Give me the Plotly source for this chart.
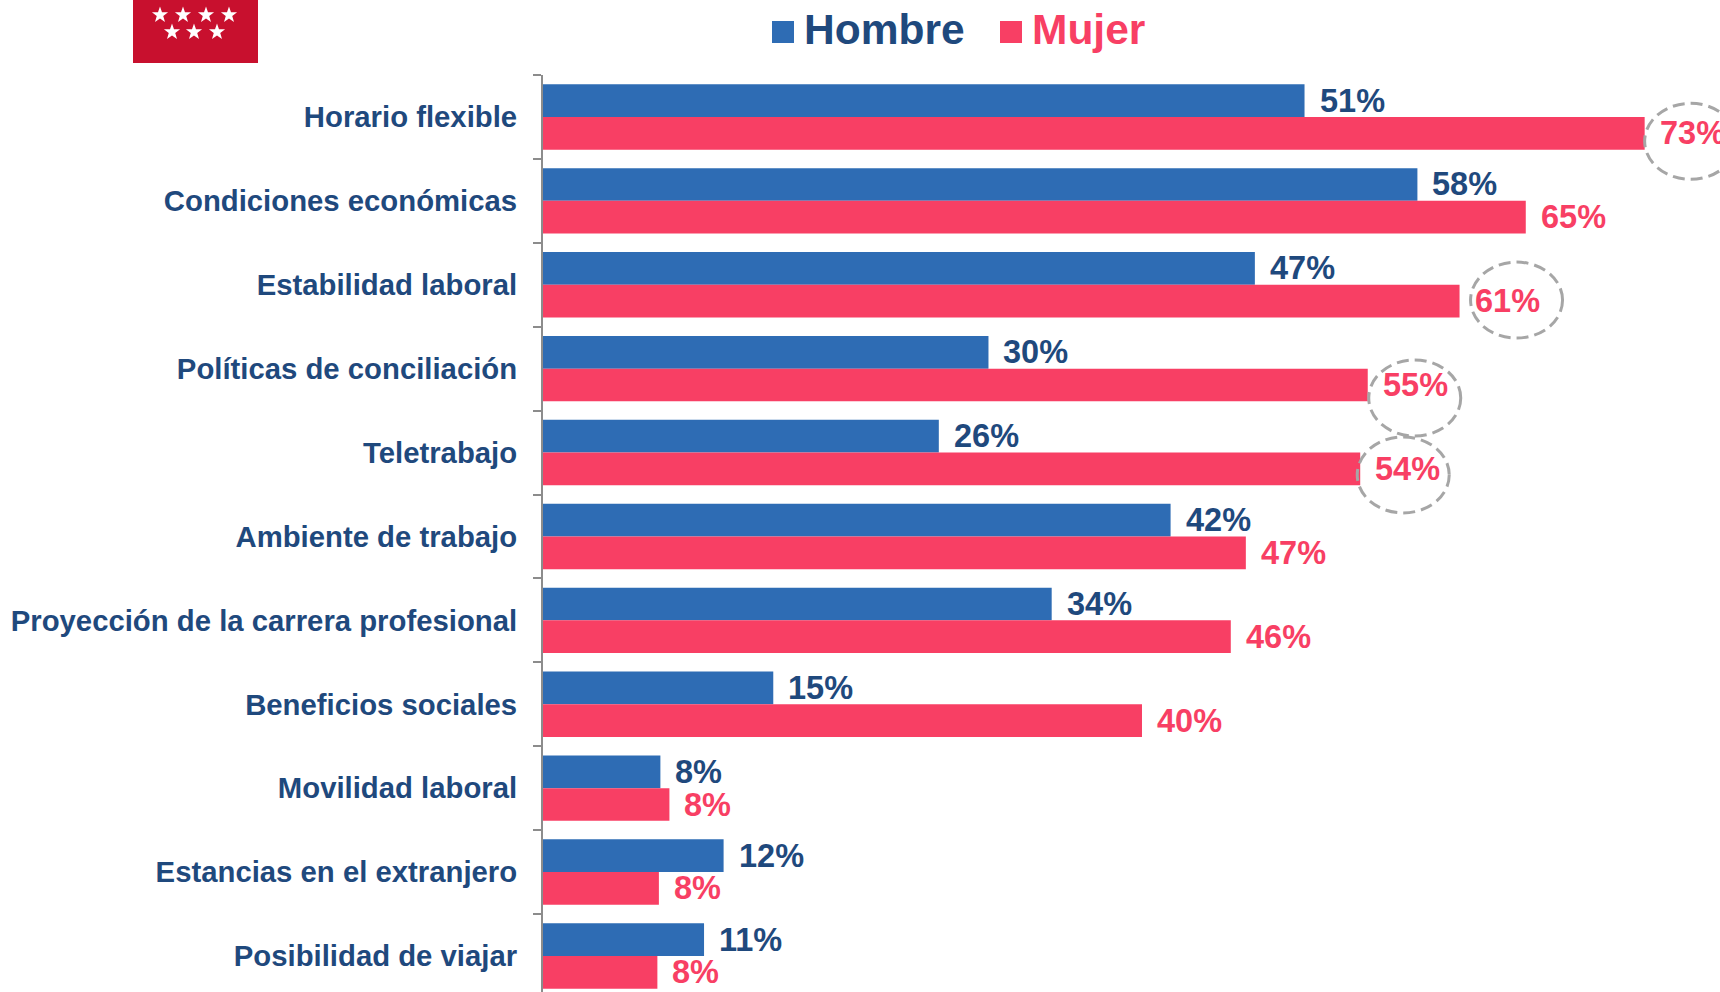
import math
import plotly.graph_objects as go

# ---------------- data ----------------
categorias = [
    "Horario flexible",
    "Condiciones económicas",
    "Estabilidad laboral",
    "Políticas de conciliación",
    "Teletrabajo",
    "Ambiente de trabajo",
    "Proyección de la carrera profesional",
    "Beneficios sociales",
    "Movilidad laboral",
    "Estancias en el extranjero",
    "Posibilidad de viajar",
]
hombre = [50.6, 58.1, 47.3, 29.6, 26.3, 41.7, 33.8, 15.3, 7.8, 12.0, 10.7]
mujer = [73.2, 65.3, 60.9, 54.8, 54.3, 46.7, 45.7, 39.8, 8.4, 7.7, 7.6]
series = ["Hombre", "Mujer"]
destacados = ["Horario flexible", "Estabilidad laboral",
              "Políticas de conciliación", "Teletrabajo"]

# ---------------- style ----------------
W, H = 1720, 992
L, R, T, B = 543, 0, 75, 0
PW, PH = W - L - R, H - T - B
AZUL = "#2E6CB4"
ROJO = "#F83F64"
TXT = "#1F497D"
GRIS = "#8C8C8C"
FONT = "Liberation Sans, Arial, sans-serif"
XMAX = PW / 15.05
YR = [-0.5 + PH / 83.9, -0.5]
BAND = PH / (YR[0] - YR[1])
BARGAP = 0.22
OFF = BAND * (1 - BARGAP) / 4  # half of a single bar height, px
# per-ellipse pixel nudges (dx of left edge, dy of centre; + = down)
ELIPSE_AJUSTE = {"Horario flexible": (0, 8), "Estabilidad laboral": (11, -1),
                 "Políticas de conciliación": (1, 13), "Teletrabajo": (-3, 6)}


def px(xp):
    return (xp - L) / PW


def py(yp):
    return (H - B - yp) / PH


def star_path(cx, cy, ro=8.5, ri=3.4):
    pts = []
    for k in range(10):
        r = ro if k % 2 == 0 else ri
        a = -math.pi / 2 + k * math.pi / 5
        pts.append((px(cx + r * math.cos(a)), py(cy + r * math.sin(a))))
    return "M" + "L".join(f"{x:.6f},{y:.6f}" for x, y in pts) + "Z"


fig = go.Figure()
for nombre, vals, col in [(series[0], hombre, AZUL), (series[1], mujer, ROJO)]:
    fig.add_trace(go.Bar(
        name=nombre, y=categorias, x=vals, orientation="h",
        marker=dict(color=col, line=dict(width=0)),
        showlegend=False, hoverinfo="x+y",
    ))

annotations = []
shapes = []
# value labels
for vals, col, ys in [(hombre, TXT, OFF), (mujer, ROJO, -OFF)]:
    for c, v in zip(categorias, vals):
        annotations.append(dict(
            x=v, y=c, xref="x", yref="y", text=f"{v:.0f}%", showarrow=False,
            xanchor="left", yanchor="middle", xshift=13, yshift=ys,
            font=dict(family=FONT, size=32.5, color=col, weight="bold"),
        ))

# dashed ellipses around highlighted Mujer values
for c in destacados:
    i = categorias.index(c)
    v = mujer[i]
    dx, dy = ELIPSE_AJUSTE[c]
    shapes.append(dict(
        type="circle", xref="x", yref="y", xsizemode="pixel", ysizemode="pixel",
        xanchor=v, yanchor=i + 0.195, x0=dx, x1=dx + 92, y0=-dy - 38, y1=-dy + 38,
        line=dict(color="#A6A6A6", width=3, dash="12px,6px"),
        fillcolor="rgba(0,0,0,0)", layer="above",
    ))

# custom legend
for nombre, col, sx, tx in [(series[0], AZUL, 772, 802), (series[1], ROJO, 1000, 1030)]:
    shapes.append(dict(type="rect", xref="paper", yref="paper",
                       x0=px(sx), x1=px(sx + 22), y0=py(43), y1=py(21),
                       fillcolor=col, line=dict(width=0)))
    annotations.append(dict(
        x=px(tx), y=py(30), xref="paper", yref="paper", text=nombre,
        showarrow=False, xanchor="left", yanchor="middle",
        font=dict(family=FONT, size=42.5, color=TXT if col == AZUL else ROJO, weight="bold"),
    ))

# logo (red flag with seven white stars)
shapes.append(dict(type="rect", xref="paper", yref="paper",
                   x0=px(133), x1=px(258), y0=py(63), y1=py(-2),
                   fillcolor="#C8102E", line=dict(width=0)))
for sx, sy in [(160, 15), (183, 15), (206, 15), (229, 15), (172, 32), (194, 32), (217, 32)]:
    shapes.append(dict(type="path", xref="paper", yref="paper",
                       path=star_path(sx, sy), fillcolor="white", line=dict(width=0)))

fig.update_layout(
    width=W, height=H,
    margin=dict(l=L, r=R, t=T, b=B, autoexpand=False),
    paper_bgcolor="white", plot_bgcolor="white",
    barmode="group", bargap=BARGAP, bargroupgap=0,
    annotations=annotations, shapes=shapes,
    xaxis=dict(range=[0, XMAX], visible=False, fixedrange=True),
    yaxis=dict(
        type="category", categoryorder="array", categoryarray=categorias,
        range=YR, automargin=False,
        showline=True, linecolor=GRIS, linewidth=2,
        ticks="outside", tickson="boundaries", ticklen=8, tickcolor=GRIS, tickwidth=2,
        showgrid=False, zeroline=False,
        tickfont=dict(family=FONT, size=29.3, color=TXT, weight="bold"),
        ticklabelstandoff=18,
    ),
    font=dict(family=FONT),
)

fig.write_html(
    "out.html",
    config={"displayModeBar": False},
    post_script="document.body.style.margin='0px';document.body.style.overflow='hidden';",
)
